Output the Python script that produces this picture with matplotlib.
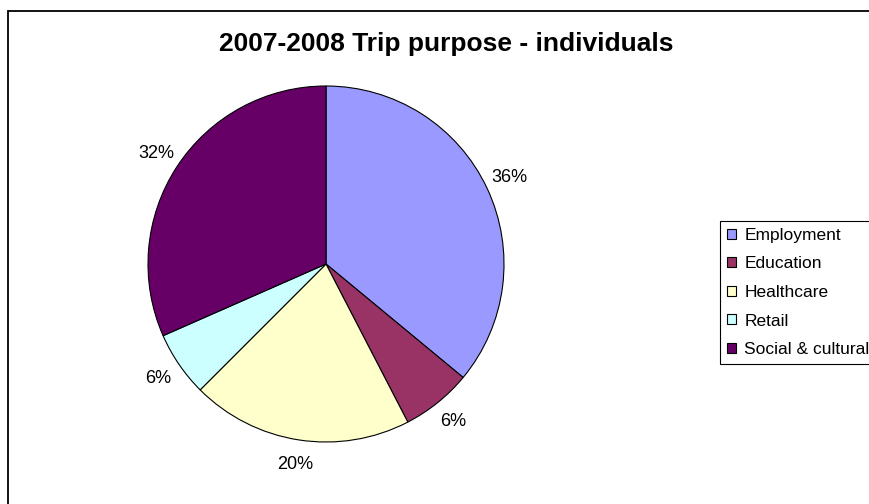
import matplotlib
matplotlib.use("Agg")
import matplotlib.pyplot as plt
from matplotlib.patches import Rectangle

plt.rcParams['font.family'] = ['Liberation Sans', 'DejaVu Sans']

# data
categories = ['Employment', 'Education', 'Healthcare', 'Retail', 'Social & cultural']
shares = [36.0, 6.4, 20.1, 5.9, 31.6]
colors = ['#9999FF', '#993366', '#FFFFCC', '#CCFFFF', '#660066']
title = '2007-2008 Trip purpose - individuals'

W, H = 870, 504
fig = plt.figure(figsize=(W / 100, H / 100), dpi=100)
fig.patch.set_facecolor('white')

# chart border (runs off the right and bottom edge in the original)
fig.patches.append(Rectangle((8 / W, -0.1), 1.2, 1.1 - 11 / H,
                             transform=fig.transFigure, fill=False,
                             edgecolor='black', linewidth=1.3))

# pie axes: centre (326, 264), radius 178 px
cx, cy, r = 326, 264, 178
ax = fig.add_axes([(cx - r) / W, (H - cy - r) / H, 2 * r / W, 2 * r / H])
labels = [f"{v:.0f}%" for v in shares]
wedges, texts = ax.pie(shares, colors=colors, labels=labels, startangle=90,
                       counterclock=False, labeldistance=1.14, radius=1,
                       wedgeprops=dict(edgecolor='black', linewidth=0.8),
                       textprops=dict(fontsize=13, color='black'))
for t in texts:
    t.set_ha('center')
    t.set_va('center')
ax.set_aspect('equal')
ax.set_xlim(-1, 1)
ax.set_ylim(-1, 1)

fig.text(446 / W, 1 - 44 / H, title, ha='center', va='center',
         fontsize=19, fontweight='bold')

leg = fig.legend(wedges, categories, loc='upper left',
                 bbox_to_anchor=(720 / W, 1 - 221 / H),
                 bbox_transform=fig.transFigure,
                 fontsize=12.5, frameon=True, fancybox=False, shadow=False,
                 handlelength=0.5, handleheight=0.5, handletextpad=0.5,
                 labelspacing=0.78, borderpad=0.4, borderaxespad=0)
leg.get_frame().set_edgecolor('black')
leg.get_frame().set_linewidth(0.8)
leg.get_frame().set_alpha(1)
for h in leg.legend_handles:
    h.set_edgecolor('black')
    h.set_linewidth(0.8)

fig.savefig('out.png', dpi=100)
